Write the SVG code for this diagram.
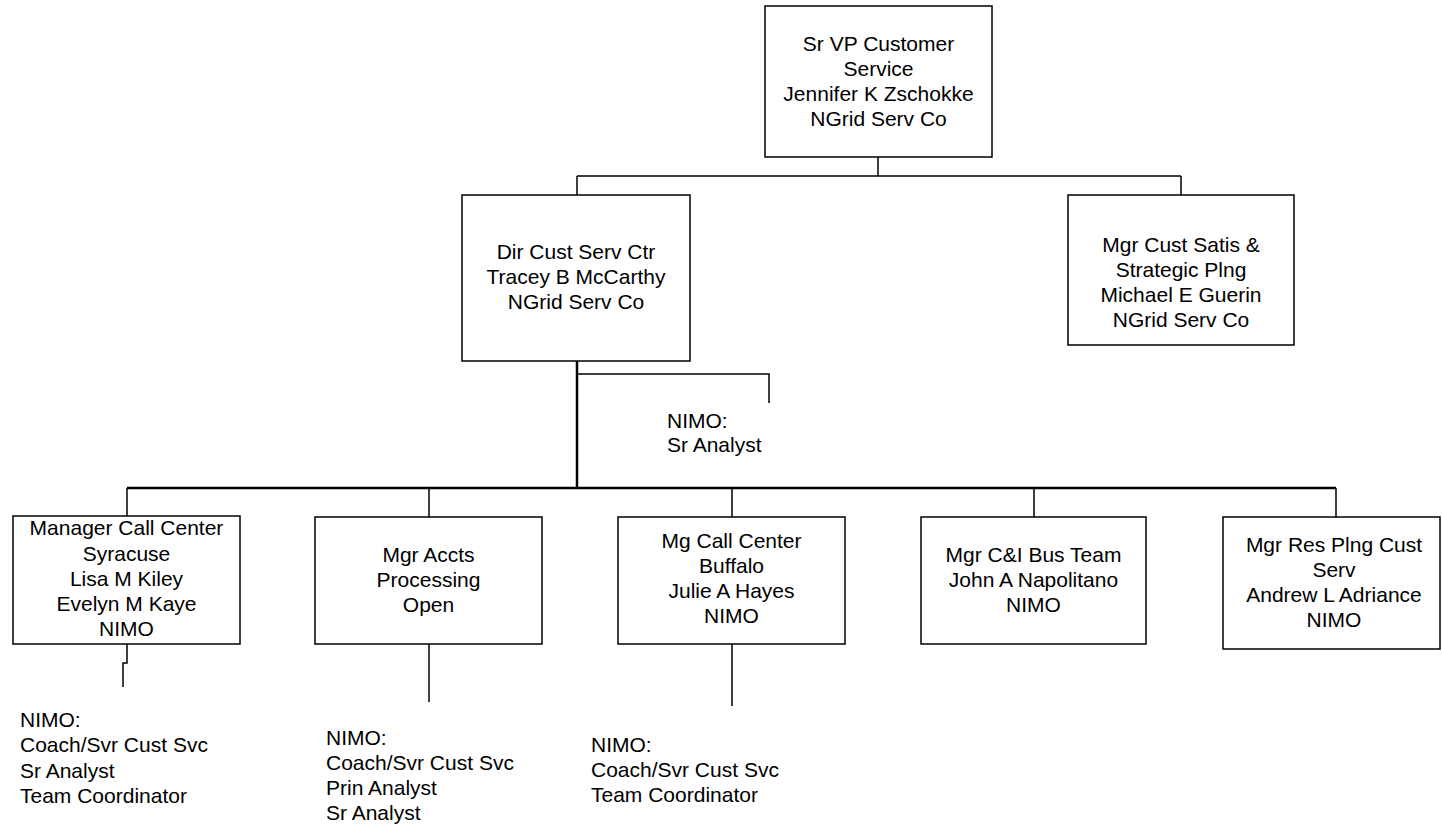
<svg xmlns="http://www.w3.org/2000/svg" width="1442" height="829" viewBox="0 0 1442 829">
<style>
.box{fill:#fff;stroke:#000;stroke-width:1.5}
.ln{fill:none;stroke:#000;stroke-width:1.5}
.thick{fill:none;stroke:#000;stroke-width:2.5}
text{font-family:"Liberation Sans",Arial,sans-serif;font-size:21px;fill:#000}
.c{text-anchor:middle}
</style>
<rect width="1442" height="829" fill="#fff"/>
<g id="connectors">
<path class="ln" d="M878 157V176M577 176H1181M577 176V195M1181 176V195"/>
<path class="thick" d="M577 361V487M127 488H1336"/>
<path class="ln" d="M577 374H769V403"/>
<path class="ln" d="M127 488V516M429 488V517M732 488V517M1034 488V517M1336 488V517"/>
<path class="ln" d="M127 644V663H123V687"/>
<path class="ln" d="M429 644V702"/>
<path class="ln" d="M732 644V706"/>
</g>
<g id="n-svp">
<rect class="box" x="765" y="6" width="227" height="151"/>
<text class="c" x="878.5" y="51">Sr VP Customer</text>
<text class="c" x="878.5" y="76">Service</text>
<text class="c" x="878.5" y="101">Jennifer K Zschokke</text>
<text class="c" x="878.5" y="126">NGrid Serv Co</text>
</g>
<g id="n-dir">
<rect class="box" x="462" y="195" width="228" height="166"/>
<text class="c" x="576" y="259">Dir Cust Serv Ctr</text>
<text class="c" x="576" y="284">Tracey B McCarthy</text>
<text class="c" x="576" y="309">NGrid Serv Co</text>
</g>
<g id="n-satis">
<rect class="box" x="1068" y="195" width="226" height="150"/>
<text class="c" x="1181" y="252">Mgr Cust Satis &amp;</text>
<text class="c" x="1181" y="277">Strategic Plng</text>
<text class="c" x="1181" y="302">Michael E Guerin</text>
<text class="c" x="1181" y="327">NGrid Serv Co</text>
</g>
<g id="n-dir-staff">
<text x="667" y="428">NIMO:</text>
<text x="667" y="452">Sr Analyst</text>
</g>
<g id="n-syr">
<rect class="box" x="13" y="516" width="227" height="128"/>
<text class="c" x="126.5" y="535">Manager Call Center</text>
<text class="c" x="126.5" y="561">Syracuse</text>
<text class="c" x="126.5" y="586">Lisa M Kiley</text>
<text class="c" x="126.5" y="611">Evelyn M Kaye</text>
<text class="c" x="126.5" y="636">NIMO</text>
</g>
<g id="n-syr-staff">
<text x="20" y="727">NIMO:</text>
<text x="20" y="752">Coach/Svr Cust Svc</text>
<text x="20" y="778">Sr Analyst</text>
<text x="20" y="803">Team Coordinator</text>
</g>
<g id="n-accts">
<rect class="box" x="315" y="517" width="227" height="127"/>
<text class="c" x="428.5" y="562">Mgr Accts</text>
<text class="c" x="428.5" y="587">Processing</text>
<text class="c" x="428.5" y="612">Open</text>
</g>
<g id="n-accts-staff">
<text x="326" y="745">NIMO:</text>
<text x="326" y="770">Coach/Svr Cust Svc</text>
<text x="326" y="795">Prin Analyst</text>
<text x="326" y="820">Sr Analyst</text>
</g>
<g id="n-buf">
<rect class="box" x="618" y="517" width="227" height="127"/>
<text class="c" x="731.5" y="548">Mg Call Center</text>
<text class="c" x="731.5" y="573">Buffalo</text>
<text class="c" x="731.5" y="598">Julie A Hayes</text>
<text class="c" x="731.5" y="623">NIMO</text>
</g>
<g id="n-buf-staff">
<text x="591" y="752">NIMO:</text>
<text x="591" y="777">Coach/Svr Cust Svc</text>
<text x="591" y="802">Team Coordinator</text>
</g>
<g id="n-ci">
<rect class="box" x="921" y="517" width="225" height="127"/>
<text class="c" x="1033.5" y="562">Mgr C&amp;I Bus Team</text>
<text class="c" x="1033.5" y="587">John A Napolitano</text>
<text class="c" x="1033.5" y="612">NIMO</text>
</g>
<g id="n-res">
<rect class="box" x="1223" y="517" width="217" height="132"/>
<text class="c" x="1334" y="552">Mgr Res Plng Cust</text>
<text class="c" x="1334" y="577">Serv</text>
<text class="c" x="1334" y="602">Andrew L Adriance</text>
<text class="c" x="1334" y="627">NIMO</text>
</g>
</svg>
